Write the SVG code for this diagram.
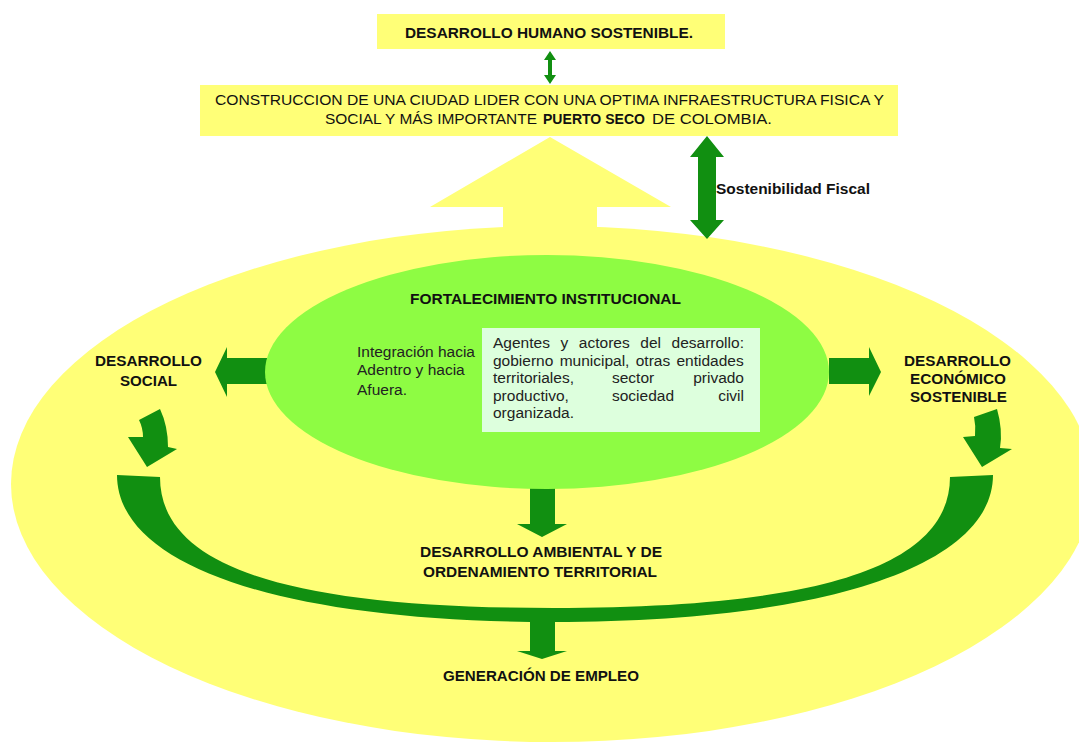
<svg xmlns="http://www.w3.org/2000/svg" width="1079" height="742" viewBox="0 0 1079 742">
<style>
.y{fill:#FFFF77}
.g{fill:#118F11}
.b{font-family:"Liberation Sans",Arial,sans-serif;font-weight:bold;font-size:14px;fill:#111}
.r{font-family:"Liberation Sans",Arial,sans-serif;font-size:14px;fill:#111}
.m{font-family:"Liberation Sans",Arial,sans-serif;font-size:15.5px;fill:#222}
</style>
<rect width="1079" height="742" fill="#fff"/>
<g id="outer-ellipse">
<ellipse class="y" cx="552" cy="484" rx="541" ry="258"/>
</g>
<g id="big-up-arrow">
<polygon class="y" points="550,137 671,207 597,207 597,235 503,235 503,207 430,207"/>
</g>
<g id="desarrollo-humano">
<rect class="y" x="377" y="14" width="348" height="35"/>
<text class="b" x="405" y="38" textLength="288" lengthAdjust="spacingAndGlyphs">DESARROLLO HUMANO SOSTENIBLE.</text>
</g>
<g id="construccion">
<rect class="y" x="200" y="85" width="698" height="51"/>
<text class="r" x="215" y="105" textLength="669" lengthAdjust="spacingAndGlyphs">CONSTRUCCION DE UNA CIUDAD LIDER CON UNA OPTIMA INFRAESTRUCTURA FISICA Y</text>
<text class="r" x="325" y="124" textLength="212" lengthAdjust="spacingAndGlyphs">SOCIAL Y MÁS IMPORTANTE</text>
<text class="b" x="543" y="124" textLength="102" lengthAdjust="spacingAndGlyphs">PUERTO SECO</text>
<text class="r" x="652" y="124" textLength="120" lengthAdjust="spacingAndGlyphs">DE COLOMBIA.</text>
</g>
<g id="connectors">
<polygon class="g" points="550,51 556,60 552,60 552,75 556,75 550,84 544,75 548,75 548,60 544,60"/>
<polygon class="g" points="707,136 724,157 716,157 716,220 724,220 707,239 690,220 698,220 698,157 690,157"/>
<polygon class="g" points="267,358 227,358 227,347 215,372 227,397 227,384 267,384"/>
<polygon class="g" points="829,358 869,358 869,347 881,372 869,396 869,384 829,384"/>
<polygon class="g" points="530,484 555,484 555,524 567,524 542,537 517,524 530,524"/>
<polygon class="g" points="530,618 555,618 555,651 567,651 542,659 517,651 530,651"/>
<path class="g" d="M139,420 L160,409 Q168,426 168,447 L177,449 L147,467 L128,437 L143,437 Q143,428 139,420 Z"/>
<path class="g" d="M974,417 L997,409 Q1003,430 1000,448 L1012,449 L982,467 L963,437 L975,436 Q976,426 974,417 Z"/>
<path class="g" d="M117,475 C117,566 282,622 553,622 C824,622 993,566 993,475 L950,477 C950,566 821,608 553,608 C285,608 160,566 160,477 Z"/>
<text class="b" x="716" y="194" textLength="154" lengthAdjust="spacingAndGlyphs">Sostenibilidad Fiscal</text>
</g>
<g id="fortalecimiento">
<ellipse cx="547" cy="372" rx="282" ry="117" fill="#8EFC43"/>
<text class="b" x="410" y="304" textLength="271" lengthAdjust="spacingAndGlyphs">FORTALECIMIENTO INSTITUCIONAL</text>
<text class="m" x="357" y="357" textLength="118" lengthAdjust="spacingAndGlyphs">Integración hacia</text>
<text class="m" x="357" y="375">Adentro y hacia</text>
<text class="m" x="357" y="395">Afuera.</text>
</g>
<g id="agentes">
<rect x="482" y="328" width="278" height="104" fill="#DDFFDD"/>
<text class="m" x="493" y="348" word-spacing="6.3">Agentes y actores del desarrollo:</text>
<text class="m" x="493" y="366" word-spacing="2">gobierno municipal, otras entidades</text>
<text class="m" x="493" y="383">territoriales,</text>
<text class="m" x="612" y="383">sector</text>
<text class="m" x="744" y="383" text-anchor="end">privado</text>
<text class="m" x="493" y="401">productivo,</text>
<text class="m" x="612" y="401">sociedad</text>
<text class="m" x="744" y="401" text-anchor="end">civil</text>
<text class="m" x="493" y="418">organizada.</text>
</g>
<g id="desarrollo-social">
<text class="b" x="95" y="366" textLength="107" lengthAdjust="spacingAndGlyphs">DESARROLLO</text>
<text class="b" x="120" y="386" textLength="57" lengthAdjust="spacingAndGlyphs">SOCIAL</text>
</g>
<g id="desarrollo-economico">
<text class="b" x="904" y="366" textLength="107" lengthAdjust="spacingAndGlyphs">DESARROLLO</text>
<text class="b" x="910" y="384" textLength="96" lengthAdjust="spacingAndGlyphs">ECONÓMICO</text>
<text class="b" x="910" y="402" textLength="97" lengthAdjust="spacingAndGlyphs">SOSTENIBLE</text>
</g>
<g id="desarrollo-ambiental">
<text class="b" x="420" y="557" textLength="242" lengthAdjust="spacingAndGlyphs">DESARROLLO AMBIENTAL Y DE</text>
<text class="b" x="423" y="577" textLength="234" lengthAdjust="spacingAndGlyphs">ORDENAMIENTO TERRITORIAL</text>
</g>
<g id="generacion-empleo">
<text class="b" x="443" y="681" textLength="196" lengthAdjust="spacingAndGlyphs">GENERACIÓN DE EMPLEO</text>
</g>
</svg>
